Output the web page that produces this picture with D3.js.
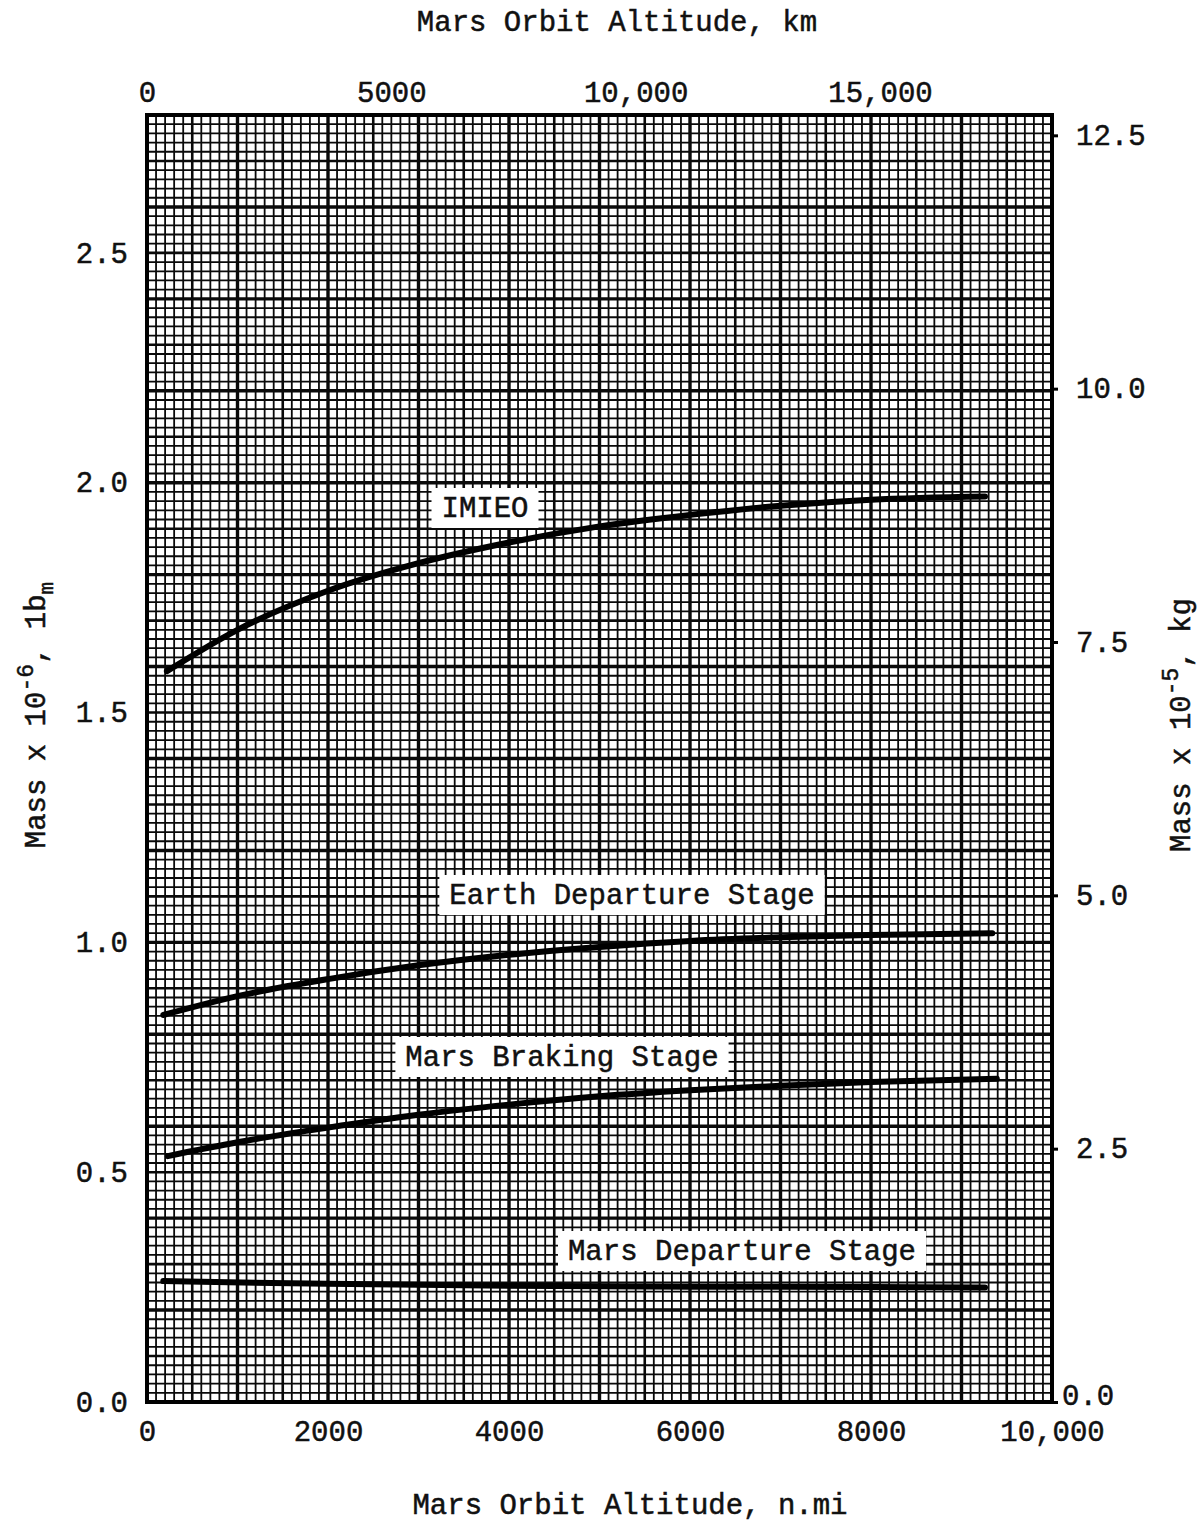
<!DOCTYPE html>
<html>
<head>
<meta charset="utf-8">
<script src="https://cdn.jsdelivr.net/npm/d3@7"></script>
<style>
  body { margin: 0; background: #fff; }
  text { font-family: "Liberation Mono", "DejaVu Sans Mono", monospace; fill: #111; }
</style>
</head>
<body>
<script>

var width = 1204;
var height = 1524;

// n.mi altitude and mass (x 10^-6 lbm)
var imieoAlt  = [220, 1000, 2000, 3000, 4000, 5000, 6000, 7000, 8000, 9260];
var imieoMass = [1.59, 1.68, 1.765, 1.825, 1.87, 1.905, 1.93, 1.95, 1.963, 1.97];

var edsAlt  = [180, 1000, 2000, 3000, 4000, 5000, 6000, 7000, 8000, 9340];
var edsMass = [0.842, 0.883, 0.92, 0.95, 0.973, 0.99, 1.003, 1.011, 1.016, 1.02];

var mbsAlt  = [230, 1000, 2000, 3000, 4000, 5000, 6000, 7000, 8000, 9390];
var mbsMass = [0.535, 0.565, 0.597, 0.625, 0.647, 0.665, 0.678, 0.688, 0.696, 0.703];

var mdsAlt  = [180, 2000, 4000, 6000, 8000, 9260];
var mdsMass = [0.263, 0.257, 0.253, 0.251, 0.25, 0.249];

var bottomTicks = [0, 2000, 4000, 6000, 8000, 10000];
var topTicks = [0, 5000, 10000, 15000];
var leftTicks = [0, 0.5, 1.0, 1.5, 2.0, 2.5];
var rightTicks = [0, 2.5, 5.0, 7.5, 10.0, 12.5];

var svg = d3.select("body")
    .append("svg")
    .attr("width", width)
    .attr("height", height);

var x = d3.scaleLinear().domain([0, 10000]).range([147, 1052]);
var xKm = d3.scaleLinear().domain([0, 10000 * 1.852]).range([147, 1052]);
var y = d3.scaleLinear().domain([0, 2.8]).range([1402, 115]);
var yKg = d3.scaleLinear().domain([0, 2.8 * 4.5359237]).range([1402, 115]);

// graph paper grid
var grid = svg.append("g");

d3.range(0, 10001, 100).forEach(function(v) {
    var heavy = v % 1000 == 0, mid = v % 500 == 0;
    grid.append("line")
        .attr("x1", x(v)).attr("x2", x(v))
        .attr("y1", y(0)).attr("y2", y(2.8))
        .attr("stroke", "#0a0a0a")
        .attr("stroke-width", heavy ? 3.4 : (mid ? 2.6 : 1.8));
});

d3.range(0, 141, 1).forEach(function(i) {
    var v = i * 0.02;
    var heavy = i % 10 == 0, mid = i % 5 == 0;
    grid.append("line")
        .attr("x1", x(0)).attr("x2", x(10000))
        .attr("y1", y(v)).attr("y2", y(v))
        .attr("stroke", "#0a0a0a")
        .attr("stroke-width", heavy ? 3.4 : (mid ? 2.6 : 1.8));
});

svg.append("rect")
    .attr("x", x(0)).attr("y", y(2.8))
    .attr("width", x(10000) - x(0))
    .attr("height", y(0) - y(2.8))
    .attr("fill", "none")
    .attr("stroke", "#000")
    .attr("stroke-width", 4);

// axes
function styleAxis(g) {
    g.select(".domain").remove();
    g.selectAll("text")
        .style("font-family", '"Liberation Mono", monospace')
        .style("font-size", "29px")
        .attr("fill", "#111")
        .attr("stroke", "#111")
        .attr("stroke-width", 0.5);
}

svg.append("g")
    .attr("transform", "translate(0," + (y(0) + 15) + ")")
    .call(d3.axisBottom(x).tickValues(bottomTicks).tickSize(0)
        .tickFormat(function(d) { return d == 10000 ? "10,000" : d; }))
    .call(styleAxis);

svg.append("g")
    .attr("transform", "translate(0," + (y(2.8) - 10) + ")")
    .call(d3.axisTop(xKm).tickValues(topTicks).tickSize(0)
        .tickFormat(function(d) { return d >= 10000 ? d3.format(",")(d) : d; }))
    .call(styleAxis);

svg.append("g")
    .attr("transform", "translate(" + (x(0) - 16) + ",0)")
    .call(d3.axisLeft(y).tickValues(leftTicks).tickSize(0).tickFormat(d3.format(".1f")))
    .call(styleAxis);

svg.append("g")
    .attr("transform", "translate(" + x(10000) + ",0)")
    .call(d3.axisRight(yKg).tickValues(rightTicks).tickSize(6).tickPadding(18).tickFormat(d3.format(".1f")))
    .call(styleAxis)
    .call(function(g) {
        g.selectAll("line").attr("stroke", "#000").attr("stroke-width", 3);
        // zero label sits a little higher and closer, as on the original sheet
        g.selectAll(".tick").filter(function(d) { return d == 0; })
            .select("text").attr("x", 10).attr("dy", "0.1em");
    });

// axis titles
svg.append("text")
    .attr("x", 617).attr("y", 31)
    .attr("text-anchor", "middle")
    .style("font-size", "29px")
    .attr("stroke", "#111").attr("stroke-width", 0.5)
    .text("Mars Orbit Altitude, km");

svg.append("text")
    .attr("x", 630).attr("y", 1514)
    .attr("text-anchor", "middle")
    .style("font-size", "29px")
    .attr("stroke", "#111").attr("stroke-width", 0.5)
    .text("Mars Orbit Altitude, n.mi");

var leftTitle = svg.append("text")
    .attr("transform", "translate(45,715) rotate(-90)")
    .attr("text-anchor", "middle")
    .style("font-size", "29px")
    .attr("stroke", "#111").attr("stroke-width", 0.5);
leftTitle.append("tspan").text("Mass x 10");
leftTitle.append("tspan").attr("dy", -12).style("font-size", "23px").text("-6");
leftTitle.append("tspan").attr("dy", 12).text(", 1b");
leftTitle.append("tspan").attr("dy", 8).style("font-size", "21px").text("m");

var rightTitle = svg.append("text")
    .attr("transform", "translate(1190,725) rotate(-90)")
    .attr("text-anchor", "middle")
    .style("font-size", "29px")
    .attr("stroke", "#111").attr("stroke-width", 0.5);
rightTitle.append("tspan").text("Mass x 10");
rightTitle.append("tspan").attr("dy", -12).style("font-size", "23px").text("-5");
rightTitle.append("tspan").attr("dy", 12).text(", kg");

// curves
var line = d3.line()
    .x(function(d) { return x(d[0]); })
    .y(function(d) { return y(d[1]); })
    .curve(d3.curveMonotoneX);

var series = [
    {name: "IMIEO", alt: imieoAlt, mass: imieoMass},
    {name: "Earth Departure Stage", alt: edsAlt, mass: edsMass},
    {name: "Mars Braking Stage", alt: mbsAlt, mass: mbsMass},
    {name: "Mars Departure Stage", alt: mdsAlt, mass: mdsMass}
];

svg.append("g").selectAll("path")
    .data(series)
    .enter().append("path")
    .attr("d", function(s) { return line(d3.zip(s.alt, s.mass)); })
    .attr("fill", "none")
    .attr("stroke", "#000")
    .attr("stroke-width", 6)
    .attr("stroke-linecap", "round");

// curve labels in white boxes
var labels = [
    {text: "IMIEO", cx: 485, cy: 508},
    {text: "Earth Departure Stage", cx: 632, cy: 895},
    {text: "Mars Braking Stage", cx: 562, cy: 1057},
    {text: "Mars Departure Stage", cx: 742, cy: 1251}
];

var lab = svg.append("g").selectAll("g")
    .data(labels)
    .enter().append("g");

lab.append("rect")
    .attr("x", function(d) { return d.cx - d.text.length * 17.4 / 2 - 10; })
    .attr("y", function(d) { return d.cy - 20; })
    .attr("width", function(d) { return d.text.length * 17.4 + 20; })
    .attr("height", 40)
    .attr("fill", "#fff");

lab.append("text")
    .attr("x", function(d) { return d.cx; })
    .attr("y", function(d) { return d.cy + 9; })
    .attr("text-anchor", "middle")
    .style("font-size", "29px")
    .attr("stroke", "#111").attr("stroke-width", 0.5)
    .text(function(d) { return d.text; });

</script>
</body>
</html>
